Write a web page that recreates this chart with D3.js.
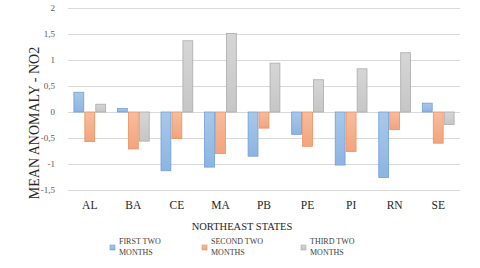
<!DOCTYPE html>
<html>
<head>
<meta charset="utf-8">
<script src="https://cdn.jsdelivr.net/npm/d3@7"></script>
<style>
  html, body { margin: 0; padding: 0; background: #fff; }
  svg text { font-family: "Liberation Serif", "Times New Roman", "DejaVu Serif", serif !important; }
</style>
</head>
<body>
<div id="chart"></div>
<script>
const states = ['AL', 'BA', 'CE', 'MA', 'PB', 'PE', 'PI', 'RN', 'SE'];
const seriesNames = ['FIRST TWO MONTHS', 'SECOND TWO MONTHS', 'THIRD TWO MONTHS'];
const firstTwo = [0.38, 0.07, -1.13, -1.06, -0.85, -0.43, -1.02, -1.26, 0.17];
const secondTwo = [-0.57, -0.71, -0.51, -0.80, -0.31, -0.66, -0.76, -0.34, -0.60];
const thirdTwo = [0.15, -0.56, 1.37, 1.51, 0.94, 0.62, 0.83, 1.14, -0.24];
const yTicks = [-1.5, -1, -0.5, 0, 0.5, 1, 1.5, 2];

const width = 480;
const height = 268;
const margin = { top: 8, right: 20, bottom: 78, left: 68 };

const fills = [
  { id: 'gBlue', top: '#a9c8ea', bottom: '#8cb4e2', stroke: '#6f9fd8' },
  { id: 'gOrange', top: '#f7bd9e', bottom: '#f2a47c', stroke: '#ee9060' },
  { id: 'gGray', top: '#d6d6d6', bottom: '#c6c6c6', stroke: '#ababab' }
];

const svg = d3.select('#chart').append('svg')
  .attr('width', width)
  .attr('height', height);

const defs = svg.append('defs');
fills.forEach((f) => {
  const g = defs.append('linearGradient').attr('id', f.id)
    .attr('x1', '0').attr('x2', '0').attr('y1', '0').attr('y2', '1');
  g.append('stop').attr('offset', '0%').attr('stop-color', f.top);
  g.append('stop').attr('offset', '100%').attr('stop-color', f.bottom);
});

const y = d3.scaleLinear()
  .domain([-1.5, 2])
  .range([height - margin.bottom, margin.top]);
const x0 = d3.scaleBand()
  .domain(states)
  .range([margin.left, width - margin.right])
  .paddingInner(0.22)
  .paddingOuter(0.11);
const x1 = d3.scaleBand()
  .domain(seriesNames)
  .range([0, x0.bandwidth()])
  .padding(0.1);

// gridlines
svg.append('g')
  .selectAll('line')
  .data(yTicks)
  .join('line')
  .attr('x1', margin.left)
  .attr('x2', width - margin.right)
  .attr('y1', (d) => Math.round(y(d)) + 0.5)
  .attr('y2', (d) => Math.round(y(d)) + 0.5)
  .attr('stroke', '#d9d9d9')
  .attr('stroke-width', 1);

// y axis labels
const fmtTick = (d) => String(d).replace('.', ',');
svg.append('g')
  .attr('transform', `translate(${margin.left - 10},0)`)
  .call(d3.axisLeft(y).tickValues(yTicks).tickSize(0).tickFormat(fmtTick))
  .call((g) => g.select('.domain').remove())
  .call((g) => g.selectAll('text')
    .attr('font-size', 9)
    .attr('fill', '#595959'));

// bars
const series = [firstTwo, secondTwo, thirdTwo];
series.forEach((vals, si) => {
  svg.append('g')
    .selectAll('rect')
    .data(vals)
    .join('rect')
    .attr('x', (d, i) => x0(states[i]) + x1(seriesNames[si]))
    .attr('y', (d) => y(Math.max(0, d)))
    .attr('width', x1.bandwidth())
    .attr('height', (d) => Math.abs(y(d) - y(0)))
    .attr('fill', `url(#${fills[si].id})`)
    .attr('stroke', fills[si].stroke)
    .attr('stroke-width', 0.8);
});

// category labels
svg.append('g')
  .attr('transform', `translate(0,${height - margin.bottom + 4})`)
  .call(d3.axisBottom(x0).tickSize(0))
  .call((g) => g.select('.domain').remove())
  .call((g) => g.selectAll('text')
    .attr('font-size', 11.5)
    .attr('fill', '#262626')
    .attr('dy', '1em'));

// axis titles
svg.append('text')
  .attr('x', 242)
  .attr('y', 230)
  .attr('text-anchor', 'middle')
  .attr('font-size', 10.5)
  .attr('fill', '#262626')
  .text('NORTHEAST STATES');

svg.append('text')
  .attr('transform', `translate(39,${(y(2) + y(-1.5)) / 2 + 24}) rotate(-90)`)
  .attr('text-anchor', 'middle')
  .attr('font-size', 14)
  .attr('fill', '#262626')
  .text('MEAN ANOMALY - NO2');

// legend
const legendX = [110, 202, 301];
const legend = svg.append('g').selectAll('g')
  .data(seriesNames)
  .join('g')
  .attr('transform', (d, i) => `translate(${legendX[i]},238)`);
legend.append('rect')
  .attr('x', 0).attr('y', 7)
  .attr('width', 5).attr('height', 5)
  .attr('fill', (d, i) => `url(#${fills[i].id})`)
  .attr('stroke', (d, i) => fills[i].stroke)
  .attr('stroke-width', 0.6);
legend.append('text')
  .attr('x', 9)
  .attr('y', 6)
  .attr('font-size', 8)
  .attr('fill', '#404040')
  .text((d) => d.split(' ').slice(0, 2).join(' '));
legend.append('text')
  .attr('x', 9)
  .attr('y', 17)
  .attr('font-size', 8)
  .attr('fill', '#404040')
  .text((d) => d.split(' ').slice(2).join(' '));
</script>
</body>
</html>
